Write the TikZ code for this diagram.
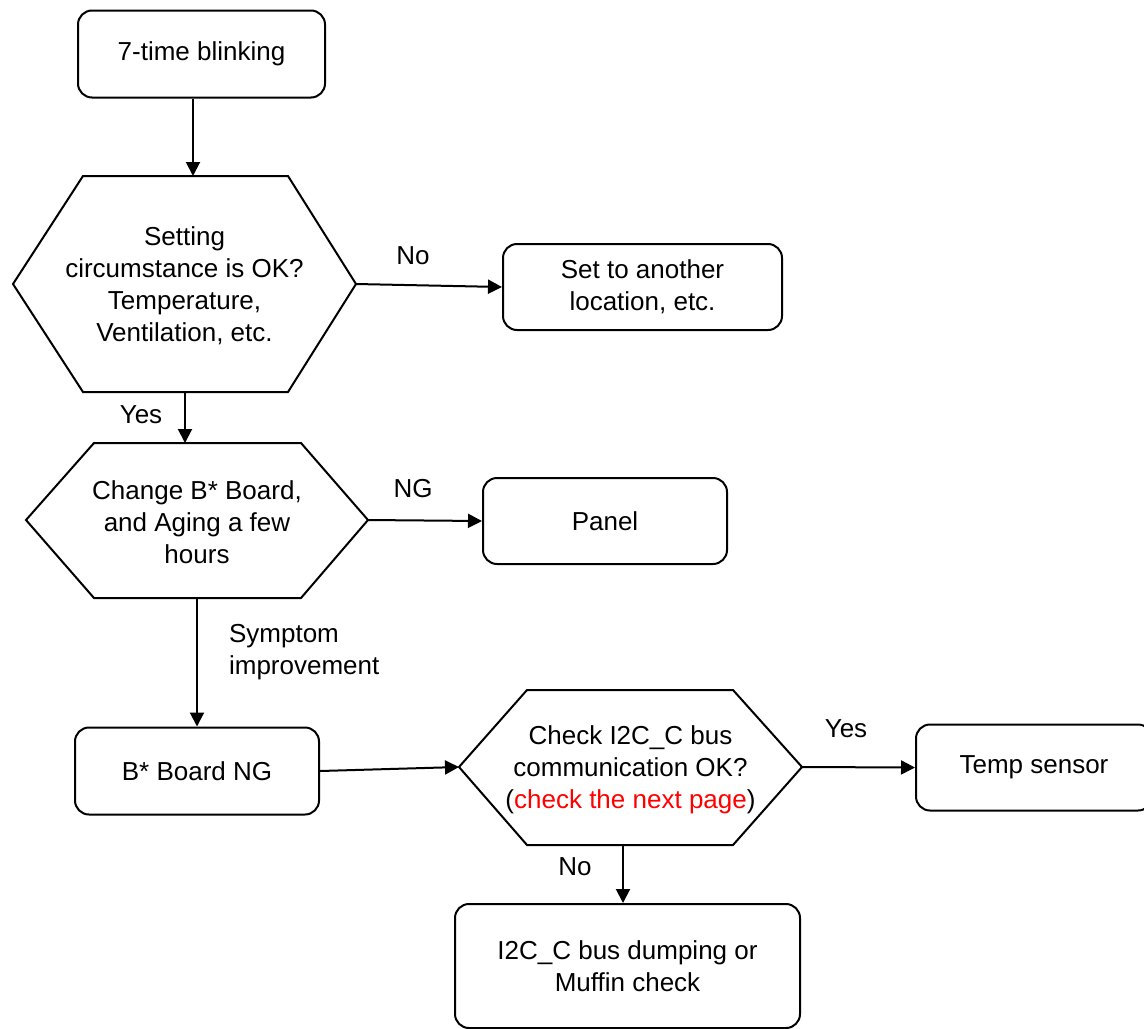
\documentclass[tikz,border=0pt]{standalone}
\usepackage{fontspec}
\setmainfont{Liberation Sans}
\usetikzlibrary{arrows.meta, positioning}

\begin{document}
\begin{tikzpicture}[x=0.5pt, y=-0.5pt,
    box/.style={rectangle, rounded corners=7pt, draw, line width=1pt, inner sep=2pt,
      align=center, font=\fontsize{13}{16}\selectfont},
    hexline/.style={line width=1pt, line join=miter},
    txt/.style={align=center, font=\fontsize{13}{16}\selectfont},
    arr/.style={-{Triangle[length=7pt, width=7pt]}, line width=1pt}
  ]
  \clip (0,0) rectangle (1144,1028);

  % boxes
  \node[box, minimum width=123.5pt, minimum height=43.5pt] (blink) at (201.5,54) {7-time blinking};
  \node[box, minimum width=139.5pt, minimum height=43pt]   (relocate) at (642.5,287) {Set to another\\location, etc.};
  \node[box, minimum width=122pt, minimum height=43pt]     (panel) at (605,521) {Panel};
  \node[box, minimum width=122pt, minimum height=43.5pt]   (board) at (197,771) {B* Board NG};
  \node[box, minimum width=118pt, minimum height=43pt]     (temp) at (1034,767.5) {Temp sensor};
  \node[box, minimum width=172.5pt, minimum height=62pt]   (dump) at (627.5,966) {I2C\_C bus dumping or\\Muffin check};

  % decision hexagons
  \draw[hexline] (13,284) -- (83,176) -- (288,176) -- (356,284) -- (288,392) -- (83,392) -- cycle;
  \node[txt] (setting) at (184.5,286) {Setting\\circumstance is OK?\\Temperature,\\Ventilation, etc.};
  \coordinate (setting-n) at (193,176);
  \coordinate (setting-e) at (356,284);
  \coordinate (setting-s) at (185,392);

  \draw[hexline] (26,520) -- (94,443) -- (301,443) -- (368,520) -- (301,598) -- (94,598) -- cycle;
  \node[txt] (change) at (197,522) {Change B* Board,\\and Aging a few\\hours};
  \coordinate (change-n) at (185,443);
  \coordinate (change-e) at (368,520);
  \coordinate (change-s) at (197,598);

  \draw[hexline] (459,767) -- (527,690) -- (733,690) -- (802,767) -- (733,845) -- (527,845) -- cycle;
  \node[txt] (i2c) at (630.5,770) {Check I2C\_C bus\\communication OK?\\(\textcolor{red}{check the next page})};
  \coordinate (i2c-w) at (459,767);
  \coordinate (i2c-e) at (802,767);
  \coordinate (i2c-s) at (623,845);

  % connectors
  \draw[arr] (blink.south -| setting-n) -- (setting-n);
  \draw[arr] (setting-e) -- (relocate.west);
  \draw[arr] (setting-s) -- (change-n);
  \draw[arr] (change-e) -- (panel.west);
  \draw[arr] (change-s) -- (board.north);
  \draw[arr] (board.east) -- (i2c-w);
  \draw[arr] (i2c-e) -- (temp.west);
  \draw[arr] (i2c-s) -- (dump.north -| i2c-s);

  % labels
  \node[txt] (l-no1)  at (413,256) {No};
  \node[txt] (l-yes1) at (141,415) {Yes};
  \node[txt] (l-ng)   at (413,489) {NG};
  \node[txt, align=left, anchor=west] (l-sym) at (222,652) {Symptom\\improvement};
  \node[txt] (l-yes2) at (846,729) {Yes};
  \node[txt] (l-no2)  at (575,867) {No};
\end{tikzpicture}
\end{document}
